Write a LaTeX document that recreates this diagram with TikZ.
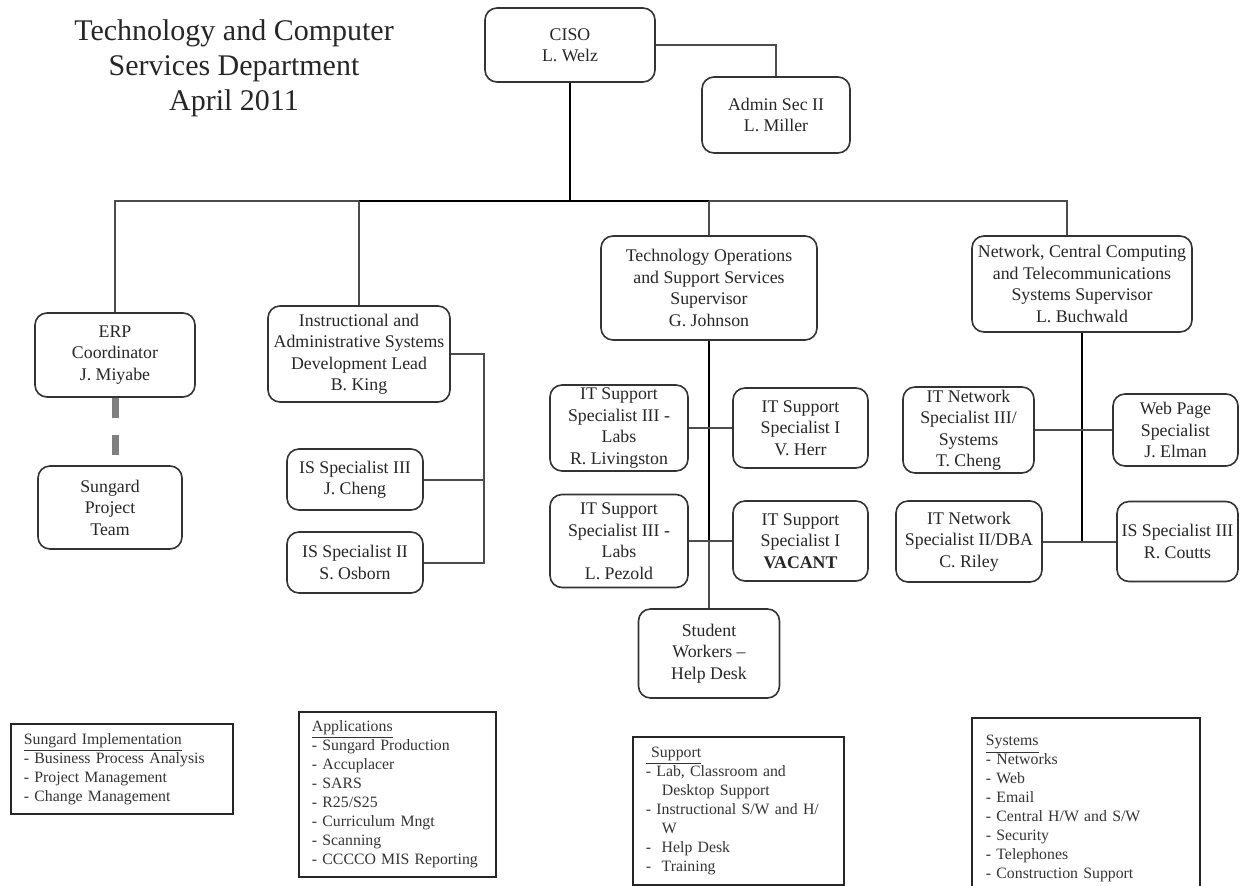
\documentclass[tikz,border=0pt]{standalone}
\usepackage{fontspec}
\setmainfont{Liberation Serif}
\usetikzlibrary{calc}
\begin{document}
\begin{tikzpicture}[x=0.5pt,y=-0.5pt,
  orgbox/.style={draw=black!80, line width=0.8pt, rounded corners=6pt, align=center, inner sep=0pt,
    font=\fontsize{8.9pt}{10.75pt}\selectfont, text=black!85},
  listbox/.style={draw=black!85, line width=0.9pt, align=left, inner xsep=6.5pt, inner ysep=0pt,
    anchor=north west, font=\fontsize{7.9pt}{9.5pt}\selectfont, text=black!80},
  link/.style={draw=black!70, line width=1pt},
  mainlink/.style={draw=black, line width=1.4pt},
  dashlink/.style={draw=black!50, line width=3.5pt, dash pattern=on 10pt off 8.5pt}]
\useasboundingbox (0,0) rectangle (1243,885);

% title
\node[font=\fontsize{15pt}{17.5pt}\selectfont, align=center, text=black!85] (title) at (234,68)
  {Technology and Computer\\Services Department\\April 2011};

% top level
\node[orgbox, minimum width=85pt, minimum height=37pt] (ciso) at (570,45) {CISO\\L. Welz};
\node[orgbox, minimum width=74pt, minimum height=38pt] (admin) at (776,115) {Admin Sec II\\L. Miller};

% second level
\node[orgbox, minimum width=80pt, minimum height=42pt] (erp) at (115,355) {ERP\\Coordinator\\J. Miyabe};
\node[orgbox, minimum width=72pt, minimum height=41.5pt] (team) at (110,507.5) {Sungard\\Project\\Team};
\node[orgbox, minimum width=91pt, minimum height=48pt] (instr) at (359,354)
  {Instructional and\\Administrative Systems\\Development Lead\\B. King};
\node[orgbox, minimum width=68pt, minimum height=30.5pt] (cheng) at (355,479.5) {IS Specialist III\\J. Cheng};
\node[orgbox, minimum width=68pt, minimum height=30.5pt] (osborn) at (355,562.5) {IS Specialist II\\S. Osborn};
\node[orgbox, minimum width=108pt, minimum height=52pt] (tech) at (709,288)
  {Technology Operations\\and Support Services\\Supervisor\\G. Johnson};
\node[orgbox, minimum width=69pt, minimum height=43pt] (liv) at (619,428)
  {IT Support\\Specialist III -\\Labs\\R. Livingston};
\node[orgbox, minimum width=67.5pt, minimum height=40pt] (herr) at (800.5,428)
  {IT Support\\Specialist I\\V. Herr};
\node[orgbox, minimum width=69pt, minimum height=46.5pt] (pez) at (619,541)
  {IT Support\\Specialist III -\\Labs\\L. Pezold};
\node[orgbox, minimum width=67.5pt, minimum height=40pt] (vac) at (800.5,541)
  {IT Support\\Specialist I\\\textbf{VACANT}};
\node[orgbox, minimum width=70.5pt, minimum height=44.5pt] (student) at (709,653.5)
  {Student\\Workers --\\Help Desk};
\node[orgbox, minimum width=110pt, minimum height=48pt] (net) at (1082,284)
  {Network, Central Computing\\and Telecommunications\\Systems Supervisor\\L. Buchwald};
\node[orgbox, minimum width=65.5pt, minimum height=43pt] (tcheng) at (968.5,430)
  {IT Network\\Specialist III/\\Systems\\T. Cheng};
\node[orgbox, minimum width=62.5pt, minimum height=36pt] (elman) at (1175.5,430)
  {Web Page\\Specialist\\J. Elman};
\node[orgbox, minimum width=73pt, minimum height=40.5pt] (riley) at (969,541.5)
  {IT Network\\Specialist II/DBA\\C. Riley};
\node[orgbox, minimum width=60.5pt, minimum height=40pt] (coutts) at (1177.5,541.5)
  {IS Specialist III\\R. Coutts};

% connectors
\coordinate (barL) at (115,201);
\coordinate (barR) at (1067,201);
\coordinate (bx) at (484,0);
\draw[link] (erp.north) -- (barL) -- (barR) -- (barR |- net.north);
\draw[mainlink] (instr.north |- barL) -- (tech.north |- barL);
\draw[mainlink] (ciso.south) -- (ciso.south |- barL);
\draw[link] (ciso.east) -| (admin.north);
\draw[link] (instr.north |- barL) -- (instr.north);
\draw[link] (tech.north |- barL) -- (tech.north);
\draw[dashlink] (erp.south) -- (erp.south |- team.north);
\draw[link] (instr.east) -| (bx |- osborn.east) -- (osborn.east);
\draw[link] (cheng.east) -- (bx |- cheng.east);
\draw[mainlink] (tech.south) -- (tech.south |- pez.east);
\draw[link] (tech.south |- pez.east) -- (student.north);
\draw[link] (liv.east) -- (herr.west);
\draw[link] (pez.east) -- (vac.west);
\draw[mainlink] (net.south) -- (net.south |- riley.east);
\draw[link] (tcheng.east) -- (elman.west);
\draw[link] (riley.east) -- (coutts.west);

% function lists
\node[listbox, text width=98pt, minimum height=45pt] (implist) at (10,723)
  {\underline{Sungard Implementation}\\
   - Business Process Analysis\\
   - Project Management\\
   - Change Management};
\node[listbox, text width=85.5pt, minimum height=82.5pt] (applist) at (298,711)
  {\underline{Applications}\\
   - Sungard Production\\
   - Accuplacer\\
   - SARS\\
   - R25/S25\\
   - Curriculum Mngt\\
   - Scanning\\
   - CCCCO MIS Reporting};
\node[listbox, text width=92.5pt, minimum height=74pt] (suplist) at (632,736)
  {\underline{\ Support}\\
   - Lab, Classroom and\\
   \hspace*{8pt}Desktop Support\\
   - Instructional S/W and H/\\
   \hspace*{8pt}W\\
   -\ \ Help Desk\\
   -\ \ Training};
\node[listbox, draw=none, text width=100pt, minimum height=90pt] (syslist) at (972,718)
  {\underline{Systems}\\
   - Networks\\
   - Web\\
   - Email\\
   - Central H/W and S/W\\
   - Security\\
   - Telephones\\
   - Construction Support};
\draw[draw=black!85, line width=0.9pt] (syslist.south west) -- (syslist.north west)
  -- (syslist.north east) -- (syslist.south east);
\end{tikzpicture}
\end{document}
